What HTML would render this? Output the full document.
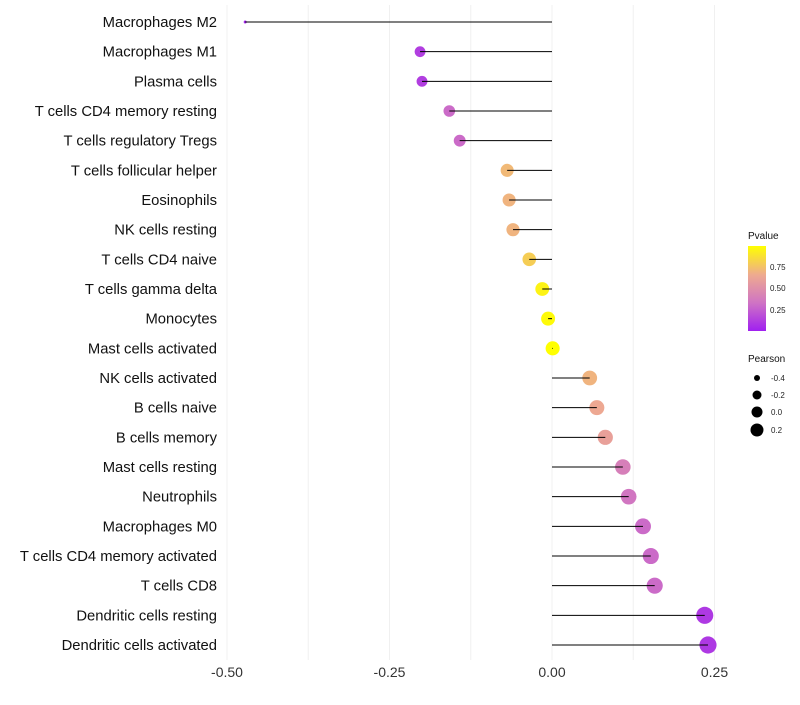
<!DOCTYPE html>
<html><head><meta charset="utf-8"><style>body{margin:0;background:#fff}svg text{font-family:"Liberation Sans",sans-serif}</style></head>
<body>
<svg id="c" width="800" height="700">
<defs><linearGradient id="pg" x1="0" y1="1" x2="0" y2="0">
<stop offset="0" stop-color="#a020f0"/><stop offset="0.33" stop-color="#cf73c4"/><stop offset="0.66" stop-color="#eeaa90"/><stop offset="1" stop-color="#ffff00"/></linearGradient></defs>
</svg>
<script>
const categories=["Macrophages M2","Macrophages M1","Plasma cells","T cells CD4 memory resting","T cells regulatory  Tregs","T cells follicular helper","Eosinophils","NK cells resting","T cells CD4 naive","T cells gamma delta","Monocytes","Mast cells activated","NK cells activated","B cells naive","B cells memory","Mast cells resting","Neutrophils","Macrophages M0","T cells CD4 memory activated","T cells CD8","Dendritic cells resting","Dendritic cells activated"];
const pearson=[-0.472,-0.203,-0.2,-0.158,-0.142,-0.069,-0.066,-0.06,-0.035,-0.015,-0.006,0.001,0.058,0.069,0.082,0.109,0.118,0.14,0.152,0.158,0.235,0.24];
const pvalues=[0.02,0.12,0.12,0.3,0.3,0.72,0.7,0.7,0.8,0.95,0.98,1.0,0.7,0.65,0.6,0.4,0.35,0.3,0.3,0.3,0.1,0.1];
const xTicks=[-0.5,-0.25,0,0.25];
const xTickLabels=["-0.50","-0.25","0.00","0.25"];
const svg=document.getElementById('c');const NS='http://www.w3.org/2000/svg';
const X=v=>552+v*650;const Y=i=>22+i*29.667;
function mk(t,a){const e=document.createElementNS(NS,t);for(const k in a)e.setAttribute(k,a[k]);svg.appendChild(e);return e;}
const stops=[[0,[160,32,240]],[0.33,[207,115,196]],[0.66,[238,170,144]],[1,[255,255,0]]];
function col(p){for(let i=1;i<stops.length;i++){if(p<=stops[i][0]){const a=stops[i-1],b=stops[i],t=(p-a[0])/(b[0]-a[0]);return 'rgb('+a[1].map((c,j)=>Math.round(c+(b[1][j]-c)*t)).join(',')+')';}}return 'rgb(255,255,0)';}
const R=v=>Math.sqrt(Math.max(0.5,2.25+100*(v+0.472)));
for(let v=-0.5;v<=0.3;v+=0.125){const g=mk('line',{x1:X(v),x2:X(v),y1:5,y2:660,stroke:'#f0f0f0','stroke-width':1});}
xTicks.forEach((t,i)=>{const e=mk('text',{x:X(t),y:677,'text-anchor':'middle','font-size':14,fill:'#333'});e.textContent=xTickLabels[i];});
categories.forEach((c,i)=>{
const l=mk('text',{x:217,y:Y(i)+5,'text-anchor':'end','font-size':14.8,fill:'#111'});l.textContent=c;
const p=mk('circle',{cx:X(pearson[i]),cy:Y(i),r:R(pearson[i]),fill:col(pvalues[i])});
const s=mk('line',{x1:X(0),x2:X(pearson[i]),y1:Y(i),y2:Y(i),stroke:'#000','stroke-width':1});
});
</script>
<svg width="800" height="700" style="position:absolute;left:0;top:0">
<text x="748" y="239" font-size="10" fill="#111" font-family="Liberation Sans">Pvalue</text>
<rect x="748" y="246" width="18" height="85" fill="url(#pg)"/>
<g font-size="8" fill="#222" font-family="Liberation Sans"><text x="770" y="270">0.75</text><text x="770" y="291">0.50</text><text x="770" y="313">0.25</text></g>
<text x="748" y="362" font-size="10" fill="#111" font-family="Liberation Sans">Pearson</text>
<g fill="#000"><circle cx="757" cy="378" r="3"/><circle cx="757" cy="395" r="4.5"/><circle cx="757" cy="412" r="5.5"/><circle cx="757" cy="430" r="6.5"/></g>
<g font-size="8" fill="#222" font-family="Liberation Sans"><text x="771" y="381">-0.4</text><text x="771" y="398">-0.2</text><text x="771" y="415">0.0</text><text x="771" y="433">0.2</text></g>
</svg>
</body></html>
